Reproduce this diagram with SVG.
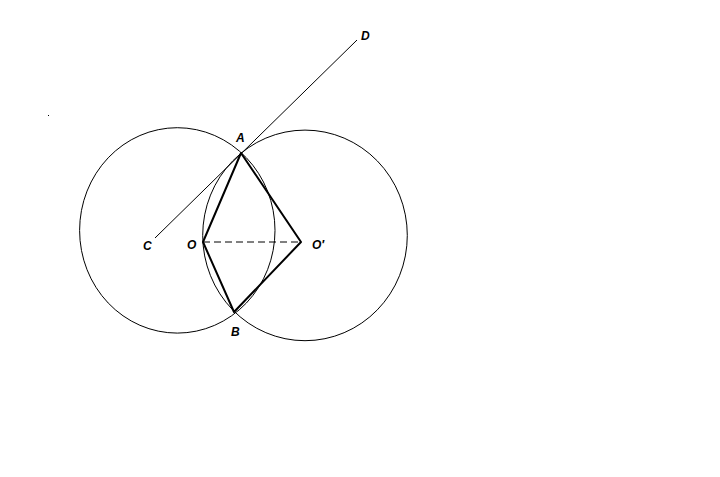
<svg xmlns="http://www.w3.org/2000/svg" width="720" height="477" viewBox="0 0 720 477">
<style>
.thin{fill:none;stroke:#000;stroke-width:1}
.thick{fill:none;stroke:#000;stroke-width:2;stroke-linecap:round;stroke-linejoin:round}
.dash{fill:none;stroke:#000;stroke-width:1;stroke-dasharray:7 4}
.lbl{font-family:"Liberation Sans",Arial,sans-serif;font-size:12px;font-weight:bold;font-style:italic;fill:#000}
</style>
<rect width="720" height="477" fill="#fff"/>
<rect x="48" y="115" width="1" height="1" fill="#000"/>
<g id="circle-left"><ellipse class="thin" cx="177.3" cy="230.4" rx="97.7" ry="102.7"/></g>
<g id="circle-right"><ellipse class="thin" cx="305" cy="235.4" rx="102.3" ry="105.3"/></g>
<g id="connectors">
<line class="thin" x1="155" y1="238" x2="357" y2="40"/>
<line class="dash" x1="203" y1="242" x2="301" y2="242"/>
<polyline class="thick" points="203,242 241,153 301,242 234,312 203,242"/>
</g>
<g id="A"><text class="lbl" x="236" y="142">A</text></g>
<g id="B"><text class="lbl" x="231" y="336">B</text></g>
<g id="C"><text class="lbl" x="143" y="250">C</text></g>
<g id="D"><text class="lbl" x="361" y="40">D</text></g>
<g id="O"><text class="lbl" x="187" y="249">O</text></g>
<g id="O2"><text class="lbl" x="312" y="249">O′</text></g>
</svg>
